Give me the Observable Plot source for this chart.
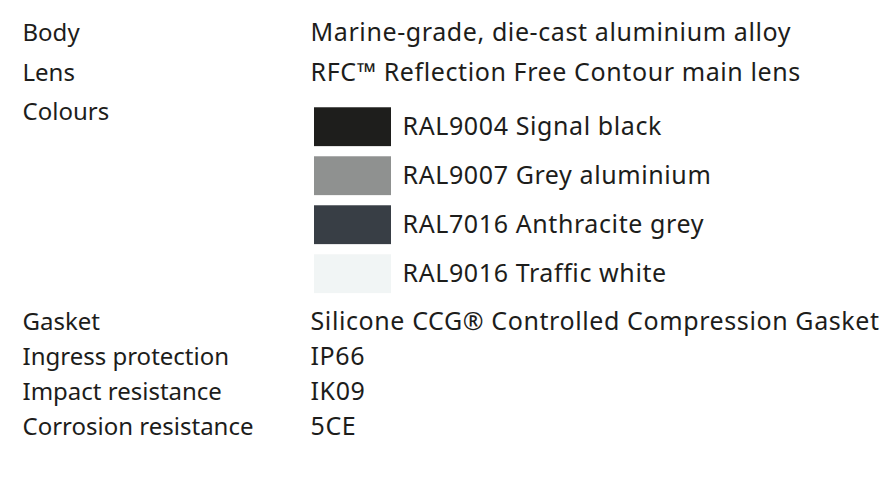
<!DOCTYPE html>
<html>
<head>
<meta charset="utf-8">
<script src="https://cdn.jsdelivr.net/npm/d3@7"></script>
<script src="https://cdn.jsdelivr.net/npm/@observablehq/plot@0.6"></script>
<style>
  html, body { margin: 0; padding: 0; background: #ffffff; }
</style>
</head>
<body>
<div id="chart"></div>
<script>
// ---- data ----
const labels = ["Body", "Lens", "Colours", "Gasket", "Ingress protection", "Impact resistance", "Corrosion resistance"];
const values = [
  "Marine-grade, die-cast aluminium alloy",
  "RFC™ Reflection Free Contour main lens",
  "",
  "Silicone CCG® Controlled Compression Gasket",
  "IP66",
  "IK09",
  "5CE"
];
const colourNames = ["RAL9004 Signal black", "RAL9007 Grey aluminium", "RAL7016 Anthracite grey", "RAL9016 Traffic white"];
const colourFills = ["#1e1e1c", "#8f9190", "#383e45", "#f1f5f5"];

// ---- layout (row units) ----
const topPitch = 1.13, swatchPitch = 1.4, bottomPitch = 1.0;
const firstRow = 0.94, swatchOffset = 0.42, swatchH = 1.11, afterSwatch = 1.37;
const rowY = [];
let cur = firstRow;
for (let i = 0; i < 3; i++) { rowY.push(cur); if (i < 2) cur += topPitch; }
const colourRow = cur;
const swatchY = colourNames.map((_, k) => colourRow + swatchOffset + k * swatchPitch);
cur = swatchY[swatchY.length - 1] + afterSwatch;
for (let i = 3; i < labels.length; i++) { rowY.push(cur); cur += bottomPitch; }

const rows = labels.map((l, i) => ({label: l, value: values[i], y: rowY[i]}));
const swatches = colourNames.map((n, k) => ({name: n, fill: colourFills[k], y: swatchY[k]}));

const labelX = 22, valueX = 310, swatchX1 = 314, swatchX2 = 391, swatchTextX = 402;
const ink = "#1d1d1b";
const font = "'Noto Sans', 'Open Sans', sans-serif";
const labelSize = 24, valueSize = 25, valueSpacing = "0.6px";

const chart = Plot.plot({
  width: 886,
  height: 487,
  margin: 0,
  x: {domain: [0, 886], axis: null},
  y: {domain: [0, 487 / 35], reverse: true, axis: null},
  color: {type: "identity"},
  style: {fontFamily: font, background: "#ffffff"},
  marks: [
    Plot.text(rows, {x: () => labelX, y: "y", text: "label", textAnchor: "start", lineAnchor: "middle", fontSize: labelSize, fill: ink}),
    Plot.text(rows, {x: () => valueX, y: "y", text: "value", textAnchor: "start", lineAnchor: "middle", fontSize: valueSize, fill: ink, className: "val"}),
    Plot.rect(swatches, {x1: () => swatchX1, x2: () => swatchX2, y1: d => d.y - swatchH / 2, y2: d => d.y + swatchH / 2, fill: "fill"}),
    Plot.text(swatches, {x: () => swatchTextX, y: "y", text: "name", textAnchor: "start", lineAnchor: "middle", fontSize: valueSize, fill: ink, className: "val"})
  ]
});
chart.querySelectorAll(".val").forEach(g => g.style.letterSpacing = valueSpacing);
document.getElementById("chart").append(chart);
</script>
</body>
</html>
